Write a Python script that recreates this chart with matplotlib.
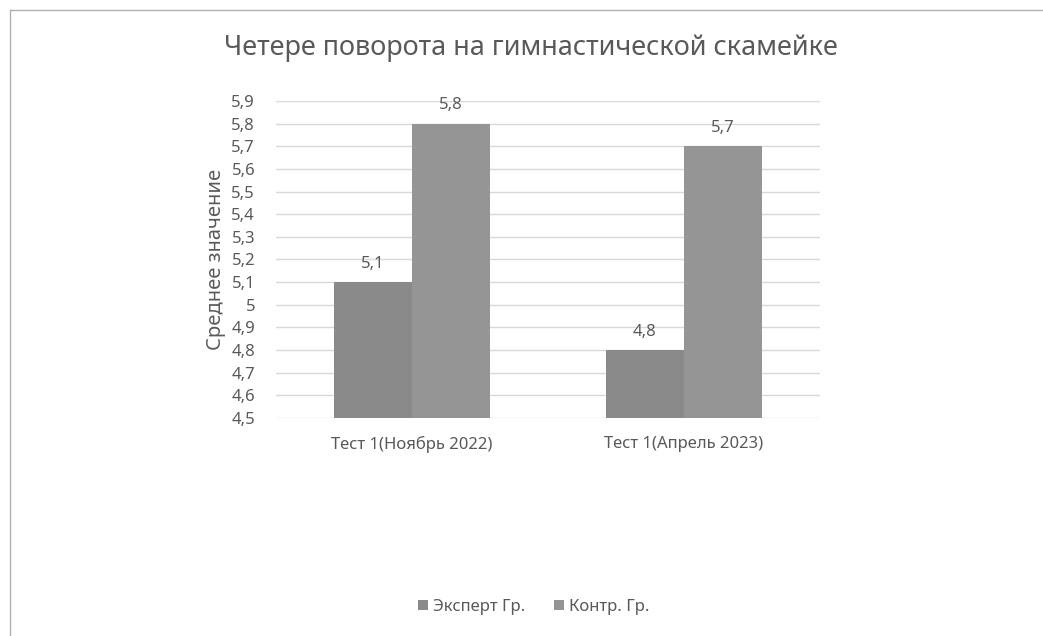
import numpy as np
import matplotlib.pyplot as plt
from matplotlib.lines import Line2D
from matplotlib.ticker import FuncFormatter, MultipleLocator

plt.rcParams['font.family'] = ['Noto Sans', 'DejaVu Sans']

categories = ["Тест 1(Ноябрь 2022)", "Тест 1(Апрель 2023)"]
series_names = ["Эксперт Гр.", "Контр. Гр."]
expert = [5.1, 4.8]
control = [5.8, 5.7]
colors = ["#8a8a8a", "#959595"]
text_color = "#595959"


def comma(v, pos=None):
    s = f"{v:.1f}"
    if s.endswith(".0"):
        s = s[:-2]
    return s.replace(".", ",")


fig = plt.figure(figsize=(10.43, 6.36), dpi=100)
ax = fig.add_axes([0.2646, 0.3428, 0.5216, 0.4984])

x = np.arange(len(categories))
w = 0.287
for i, (vals, name) in enumerate(zip([expert, control], series_names)):
    pos = x + (i - 0.5) * w
    ax.bar(pos, np.array(vals) - 4.5, bottom=4.5, width=w,
           color=colors[i], label=name, zorder=3)
    for p, v in zip(pos, vals):
        ax.text(p, v + 0.045, comma(v), ha="center", va="bottom",
                fontsize=12, color=text_color)

ax.set_xlim(-0.5, 1.5)
ax.set_ylim(4.5, 5.9)
ax.yaxis.set_major_locator(MultipleLocator(0.1))
ax.yaxis.set_major_formatter(FuncFormatter(comma))
ax.set_xticks(x)
ax.set_xticklabels(categories)
ax.grid(axis="y", color="#d9d9d9", linewidth=1, zorder=0)
for s in ax.spines.values():
    s.set_visible(False)
ax.tick_params(axis="both", length=0, labelsize=12, colors=text_color)
ax.tick_params(axis="x", pad=13)
ax.tick_params(axis="y", pad=15)
ax.set_ylabel("Среднее значение", fontsize=14.5, color=text_color, labelpad=4)

fig.text(531 / 1043, 1 - 48 / 636, "Четере поворота на гимнастической скамейке",
         ha="center", va="center", fontsize=19.5, color=text_color)

fig.legend(loc="center", bbox_to_anchor=(534 / 1043, 1 - 607 / 636), ncol=2,
           frameon=False, handlelength=0.6, handleheight=0.6, handletextpad=0.3,
           columnspacing=1.7, fontsize=12, labelcolor=text_color)

# chart frame, left and top edges
fig.add_artist(Line2D([10 / 1043, 10 / 1043], [0, 1 - 10 / 636], color="#b0b0b0", lw=1))
fig.add_artist(Line2D([10 / 1043, 1], [1 - 10 / 636, 1 - 10 / 636], color="#b0b0b0", lw=1))

fig.savefig("out.png", dpi=100)
